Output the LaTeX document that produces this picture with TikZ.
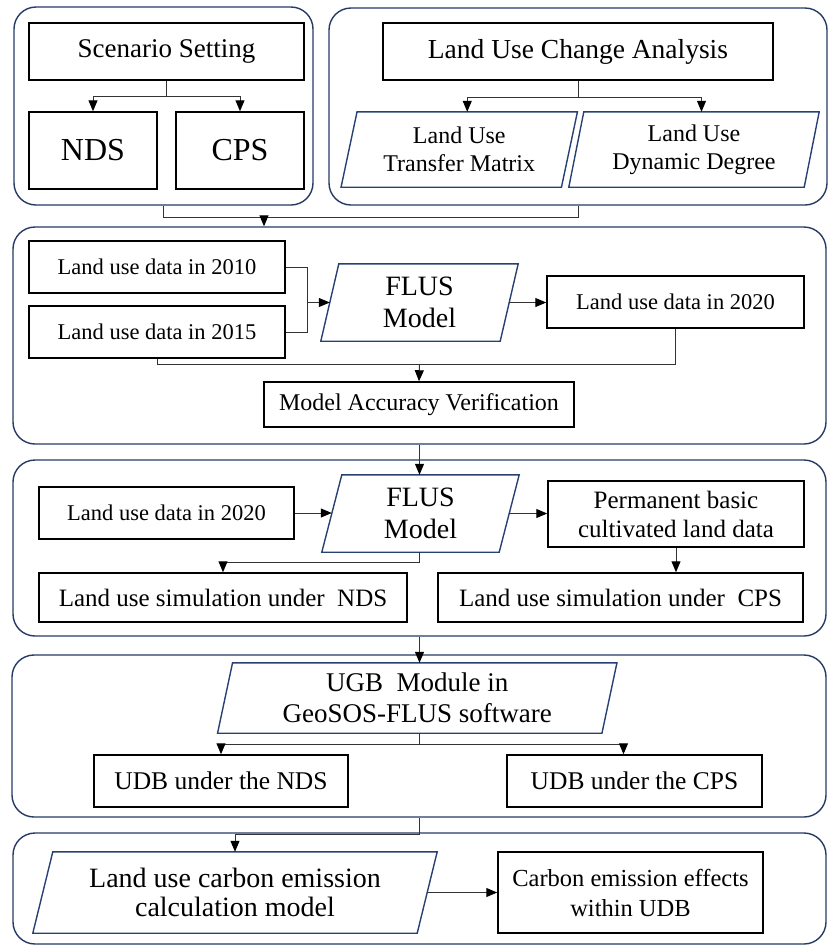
\documentclass[tikz,border=0pt]{standalone}
\usepackage{fontspec}
\setmainfont{Liberation Serif}
\usetikzlibrary{arrows.meta,calc}
\definecolor{navy}{RGB}{38,58,100}
\definecolor{pgblue}{RGB}{40,65,115}
\newcommand{\fs}[2]{\fontsize{#1}{#2}\selectfont}
\newcommand{\pgram}[2]{\draw[pgline] ([xshift=#2]#1.north west) -- ([xshift=#2]#1.north east) -- ([xshift=-#2]#1.south east) -- ([xshift=-#2]#1.south west) -- cycle;}
\tikzset{
  sec/.style={draw=navy, line width=1.4pt, rounded corners=22pt, inner sep=0pt},
  box/.style={draw=black, line width=1.5pt, inner sep=0pt, align=center},
  pg/.style={inner sep=0pt, align=center},
  pgline/.style={draw=pgblue, line width=1.4pt},
  con/.style={draw=black!80, line width=1pt},
  arr/.style={con, -{Triangle[length=11pt,width=9pt,color=black]}}
}
\begin{document}
\begin{tikzpicture}[x=1pt,y=-1pt]
\useasboundingbox (0,0) rectangle (830,946);
% sections
\node[sec, minimum width=299, minimum height=198] (s1l) at (163.5,106) {};
\node[sec, minimum width=498, minimum height=197] (s1r) at (578,106.5) {};
\node[sec, minimum width=813, minimum height=217] (s2) at (419.5,335.5) {};
\node[sec, minimum width=813, minimum height=176] (s3) at (419.5,548) {};
\node[sec, minimum width=814, minimum height=162] (s4) at (419,736) {};
\node[sec, minimum width=813, minimum height=111] (s5) at (419.5,888.5) {};
% top left
\node[box, minimum width=275, minimum height=57, font=\fs{27}{31}] (ss) at (166.5,51.5) {Scenario Setting};
\node[box, minimum width=128, minimum height=77, font=\fs{32}{36}] (nds) at (93,150.5) {NDS};
\node[box, minimum width=128, minimum height=77, font=\fs{32}{36}] (cps) at (240,150.5) {CPS};
\coordinate (b1) at (166.5,96);
\draw[con] (ss.south) -- (b1);
\draw[arr] (b1) -| (nds.north);
\draw[arr] (b1) -| (cps.north);
% top right
\node[box, minimum width=390, minimum height=57, font=\fs{27.5}{31}] (luca) at (578,51.5) {Land Use Change Analysis};
\node[pg, minimum width=220, minimum height=75, font=\fs{24}{28}] (ltm) at (459.25,149.5) {Land Use\\Transfer Matrix};
\pgram{ltm}{8}
\node[pg, minimum width=235, minimum height=75, font=\fs{24}{28}] (ldd) at (694,149.5) {Land Use\\Dynamic Degree};
\pgram{ldd}{7.5}
\coordinate (b2) at (578,97);
\draw[con] (luca.south) -- (b2);
\draw[arr] (b2) -| ([xshift=8]ltm.north);
\draw[arr] (b2) -| ([xshift=7.5]ldd.north);
% section 1 -> 2
\draw[con] (s1l.south) -- ++(0,12) -| (s1r.south);
\coordinate (j1) at (264,217);
\draw[arr] (j1) -- (j1 |- s2.north);
% section 2
\node[box, minimum width=256, minimum height=52, font=\fs{22.5}{26}] (d2010) at (157,267) {Land use data in 2010};
\node[box, minimum width=256, minimum height=52, font=\fs{22.5}{26}] (d2015) at (157,332) {Land use data in 2015};
\node[pg, minimum width=179, minimum height=77, font=\fs{28}{32}] (flus1) at (419.5,302.5) {FLUS\\Model};
\pgram{flus1}{9}
\node[box, minimum width=257, minimum height=52, font=\fs{22.5}{26}] (d2020a) at (675.5,302) {Land use data in 2020};
\node[box, minimum width=310, minimum height=45, font=\fs{24}{28}] (mav) at (419,404.5) {Model Accuracy Verification};
\coordinate (m1) at (307,302.5);
\draw[con] (d2010.east) -| (m1);
\draw[con] (d2015.east) -| (m1);
\draw[arr] (m1) -- (flus1.west);
\draw[arr] (flus1.east) -- (flus1.east -| d2020a.west);
\draw[con] (d2015.south) -- ++(0,6) -| (d2020a.south);
\coordinate (j2) at (419.5,364);
\draw[arr] (j2) -- (mav.north);
% section 3
\node[box, minimum width=255, minimum height=52, font=\fs{22.5}{26}] (d2020b) at (166.5,513) {Land use data in 2020};
\node[pg, minimum width=177, minimum height=77, font=\fs{28}{32}] (flus2) at (420.5,513.5) {FLUS\\Model};
\pgram{flus2}{10}
\node[box, minimum width=256, minimum height=66, font=\fs{25}{29}] (perm) at (676,514) {Permanent basic\\cultivated land data};
\node[box, minimum width=368, minimum height=49, font=\fs{25}{29}] (ndssim) at (223,597.5) {Land use simulation under~~NDS};
\node[box, minimum width=365, minimum height=49, font=\fs{25}{29}] (cpssim) at (620.5,597.5) {Land use simulation under~~CPS};
\draw[arr] (s2.south) -- (s2.south |- flus2.north);
\draw[arr] (d2020b.east) -- (d2020b.east -| flus2.west);
\draw[arr] (flus2.east) -- (flus2.east -| perm.west);
\draw[arr] (s2.south |- flus2.south) -- ++(0,10) -| (ndssim.north);
\draw[arr] (perm.south) -- (perm.south |- cpssim.north);
% section 4
\node[pg, minimum width=384, minimum height=70, font=\fs{27}{31}] (ugb) at (417.25,698) {UGB~~Module in\\GeoSOS-FLUS software};
\pgram{ugb}{7.5}
\node[box, minimum width=254, minimum height=52, font=\fs{25.5}{29}] (udbn) at (221,781) {UDB under the NDS};
\node[box, minimum width=255, minimum height=52, font=\fs{25.5}{29}] (udbc) at (634.5,781) {UDB under the CPS};
\draw[arr] (s3.south) -- (s3.south |- ugb.north);
\coordinate (j4) at (419.5,744);
\draw[con] (s3.south |- ugb.south) -- (j4);
\draw[arr] (j4) -| (udbn.north);
\draw[arr] (j4) -| ([xshift=-11]udbc.north);
% section 5
\node[pg, minimum width=384, minimum height=81, font=\fs{28}{29}] (carb) at (235,892.5) {Land use carbon emission\\calculation model};
\pgram{carb}{10}
\node[box, minimum width=265, minimum height=81, font=\fs{24.5}{30}] (ceff) at (630.5,892.5) {Carbon emission effects\\within UDB};
\draw[arr] (s4.south) -- ++(0,17) -| (carb.north);
\draw[arr] (carb.east) -- (carb.east -| ceff.west);
\end{tikzpicture}
\end{document}
